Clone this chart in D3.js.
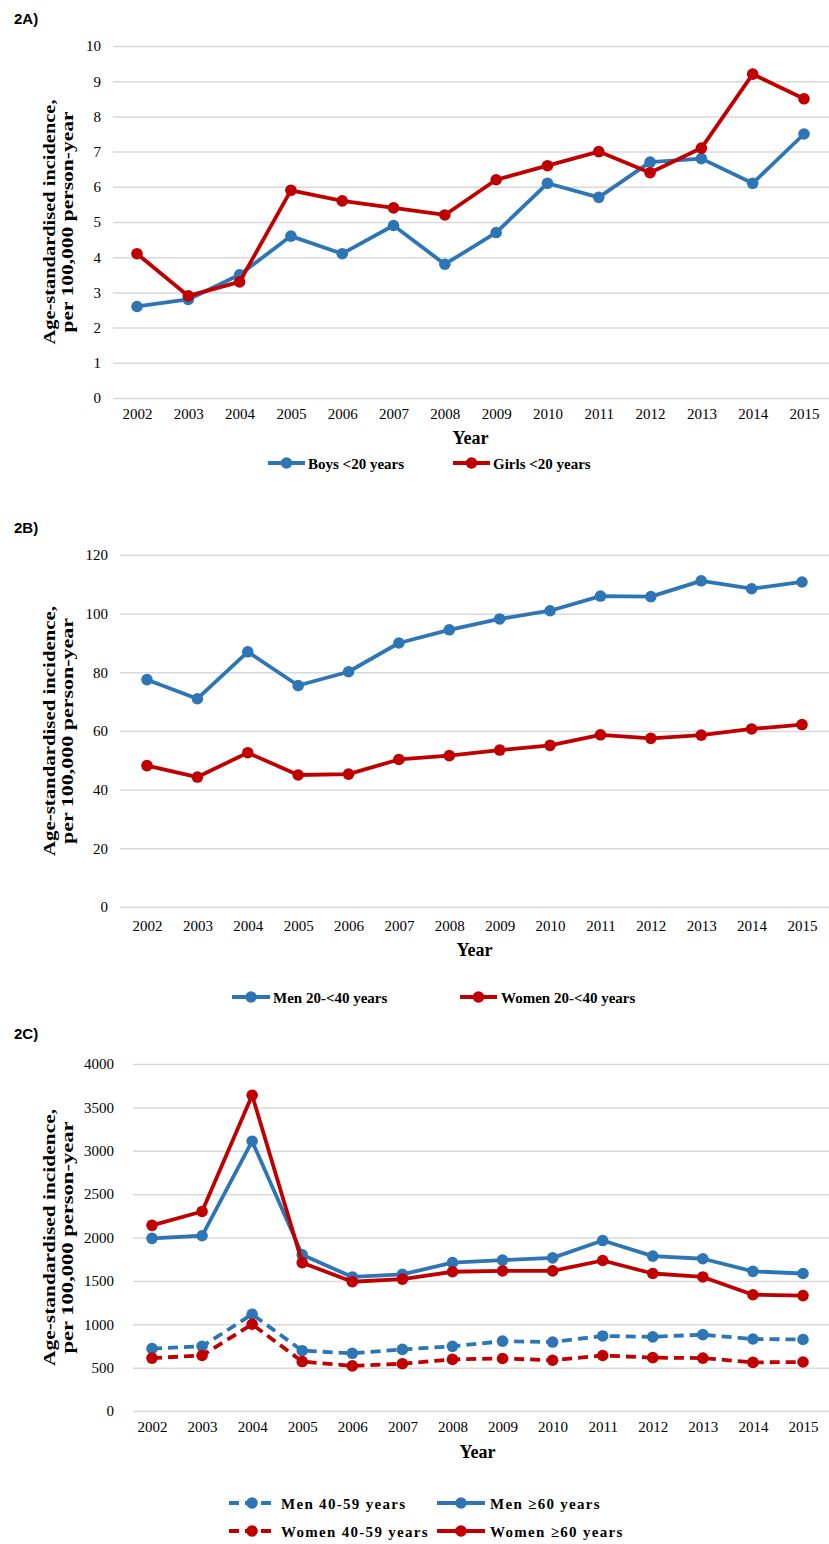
<!DOCTYPE html>
<html><head><meta charset="utf-8">
<script src="https://cdn.jsdelivr.net/npm/d3@7"></script>
<style>
body{margin:0;background:#fff;}
svg text{font-family:"Liberation Serif","Times New Roman",serif;fill:#000;}
</style></head>
<body><svg id="chart" width="829" height="1544"></svg>
<script>
const years = ["2002","2003","2004","2005","2006","2007","2008","2009","2010","2011","2012","2013","2014","2015"];

// Panel A
const ticksA = [0,1,2,3,4,5,6,7,8,9,10];
const boysU20  = [2.6,2.8,3.5,4.6,4.1,4.9,3.8,4.7,6.1,5.7,6.7,6.8,6.1,7.5];
const girlsU20 = [4.1,2.9,3.3,5.9,5.6,5.4,5.2,6.2,6.6,7.0,6.4,7.1,9.2,8.5];
// Panel B
const ticksB = [0,20,40,60,80,100,120];
const men20_40   = [77.5,71,87,75.5,80.2,90,94.5,98.2,101,106,105.8,111.2,108.5,110.8];
const women20_40 = [48.2,44.3,52.6,45,45.3,50.3,51.6,53.5,55.1,58.7,57.5,58.6,60.7,62.2];
// Panel C
const ticksC = [0,500,1000,1500,2000,2500,3000,3500,4000];
const men40_59   = [720,745,1115,695,665,710,745,805,795,865,855,880,830,825];
const men60      = [1990,2020,3110,1800,1545,1575,1710,1740,1765,1965,1785,1755,1610,1585];
const women40_59 = [610,640,1000,570,520,545,595,605,585,640,615,610,560,565];
const women60    = [2140,2300,3640,1710,1490,1520,1605,1615,1615,1735,1585,1545,1340,1330];

const BLUE = "#2E75B6", RED = "#C00000";
const svg = d3.select("#chart");

function panel(cfg){
  const g = svg.append("g");
  g.append("text").attr("x",14).attr("y",cfg.labelY).text(cfg.label)
    .style("font-family","'Liberation Sans',Arial,sans-serif").style("font-weight","bold").style("font-size","15px");
  const x = d3.scalePoint().domain(years).range([cfg.x0, cfg.x1]);
  const y = d3.scaleLinear().domain([0, cfg.max]).range([cfg.yBottom, cfg.yTop]);
  const grid = g.append("g").attr("transform",`translate(${cfg.gridLeft},0)`)
    .call(d3.axisLeft(y).tickValues(cfg.ticks).tickSize(-(829-cfg.gridLeft)).tickFormat(""));
  grid.select(".domain").remove();
  grid.selectAll("line").attr("stroke","#d9d9d9").attr("stroke-width",1.5);
  const ya = g.append("g").attr("transform",`translate(${cfg.yLabelX},0)`)
    .call(d3.axisLeft(y).tickValues(cfg.ticks).tickSize(0).tickPadding(0).tickFormat(d3.format("d")));
  ya.select(".domain").remove();
  ya.selectAll("text").style("font-size","15px").attr("fill","#000");
  const xa = g.append("g").attr("transform",`translate(0,${cfg.yBottom})`)
    .call(d3.axisBottom(x).tickSize(0).tickPadding(cfg.xPad));
  xa.select(".domain").remove();
  xa.selectAll("text").style("font-size","15px").attr("fill","#000");
  g.append("text").attr("x",(cfg.x0+cfg.x1)/2).attr("y",cfg.yearY).attr("text-anchor","middle")
    .style("font-weight","bold").style("font-size","18px").text("Year");
  const cy = (cfg.yTop+cfg.yBottom)/2;
  const yt = g.append("text").attr("transform",`translate(${cfg.ytX},${cy}) rotate(-90)`).attr("text-anchor","middle")
    .style("font-weight","bold").style("font-size","17px");
  yt.append("tspan").attr("x",0).attr("dy",0).attr("textLength",cfg.tl1).attr("lengthAdjust","spacingAndGlyphs")
    .text("Age-standardised incidence,");
  yt.append("tspan").attr("x",0).attr("dy",18).attr("textLength",cfg.tl2).attr("lengthAdjust","spacingAndGlyphs")
    .text("per 100,000 person-year");
  const line = d3.line().x((d,i)=>x(years[i])).y(d=>y(d));
  cfg.series.forEach(s=>{
    g.append("path").datum(s.values).attr("d",line).attr("fill","none")
      .attr("stroke",s.color).attr("stroke-width",3.8).attr("stroke-linejoin","round")
      .attr("stroke-dasharray",s.dash?"10,6":null);
    g.selectAll(null).data(s.values).enter().append("circle")
      .attr("cx",(d,i)=>x(years[i])).attr("cy",d=>y(d)).attr("r",5.8).attr("fill",s.color);
  });
  cfg.legend.forEach(l=>{
    const lg = g.append("g");
    lg.append("line").attr("x1",l.lx1).attr("x2",l.lx2).attr("y1",l.y).attr("y2",l.y)
      .attr("stroke",l.color).attr("stroke-width",3.8).attr("stroke-dasharray",l.dash?"10,6":null);
    lg.append("circle").attr("cx",(l.lx1+l.lx2)/2).attr("cy",l.y).attr("r",5.8).attr("fill",l.color);
    lg.append("text").attr("x",l.tx).attr("y",l.y+5.5).style("font-weight","bold").style("font-size",l.fs||"15px")
      .style("letter-spacing",l.ls||"0px").text(l.text);
  });
}

panel({label:"2A)",labelY:24,x0:137,x1:804,yTop:46,yBottom:398,max:10,ticks:ticksA,gridLeft:113,yLabelX:101,
  xPad:10,yearY:444,ytX:55,tl1:245,tl2:221,
  series:[{values:boysU20,color:BLUE},{values:girlsU20,color:RED}],
  legend:[{lx1:268,lx2:305,y:463,color:BLUE,tx:308,text:"Boys <20 years"},
          {lx1:453,lx2:490,y:463,color:RED,tx:493,text:"Girls <20 years"}]});

panel({label:"2B)",labelY:533,x0:147,x1:802,yTop:555,yBottom:907,max:120,ticks:ticksB,gridLeft:120,yLabelX:108,
  xPad:13,yearY:956,ytX:55,tl1:250,tl2:226,
  series:[{values:men20_40,color:BLUE},{values:women20_40,color:RED}],
  legend:[{lx1:232,lx2:270,y:997,color:BLUE,tx:273,text:"Men 20-<40 years"},
          {lx1:460,lx2:497,y:997,color:RED,tx:501,text:"Women 20-<40 years"}]});

panel({label:"2C)",labelY:1039,x0:152,x1:803,yTop:1064,yBottom:1411,max:4000,ticks:ticksC,gridLeft:133,yLabelX:114,
  xPad:10,yearY:1458,ytX:55,tl1:257,tl2:232,
  series:[{values:men40_59,color:BLUE,dash:true},{values:men60,color:BLUE},
          {values:women40_59,color:RED,dash:true},{values:women60,color:RED}],
  legend:[{lx1:229,lx2:275,y:1503,color:BLUE,dash:true,tx:281,text:"Men 40-59 years",ls:"1.3px"},
          {lx1:437,lx2:485,y:1503,color:BLUE,tx:490,text:"Men ≥60 years",ls:"1.3px"},
          {lx1:229,lx2:275,y:1531,color:RED,dash:true,tx:281,text:"Women 40-59 years",ls:"1.3px"},
          {lx1:437,lx2:485,y:1531,color:RED,tx:490,text:"Women ≥60 years",ls:"1.3px"}]});
</script></body></html>
